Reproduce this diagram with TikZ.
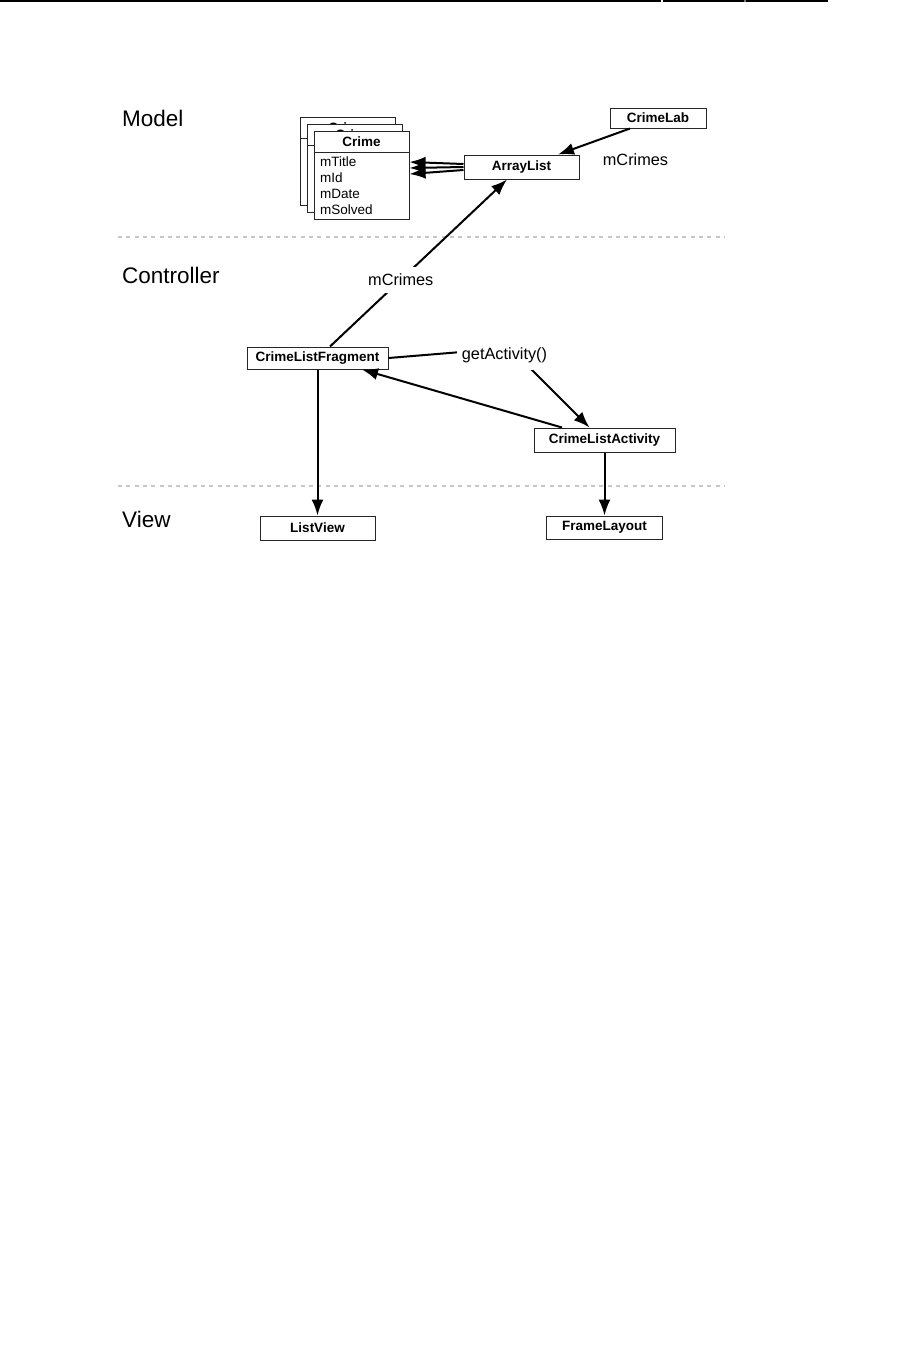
\documentclass[tikz,border=0pt]{standalone}
\usepackage{fontspec}
\setmainfont{Liberation Sans}
\usetikzlibrary{arrows.meta}

\begin{document}
\begin{tikzpicture}[x=1pt,y=-1pt,
  cls/.style={draw=black!85,line width=1pt,fill=white,inner sep=0pt,font=\fontsize{13.5}{16}\selectfont\bfseries},
  hdr/.style={inner sep=0pt,font=\fontsize{13.5}{16}\selectfont\bfseries},
  fld/.style={anchor=base west,inner sep=0pt,font=\fontsize{13.5}{16}\selectfont},
  lbl/.style={fill=white,inner xsep=5pt,inner ysep=7pt,font=\fontsize{16.3}{19}\selectfont},
  layer/.style={anchor=base west,inner sep=0pt,font=\fontsize{22.5}{27}\selectfont},
  arr/.style={line width=2pt,-{Latex[length=16pt,width=12pt]}},
  sep/.style={line width=1.5pt,black!22,dash pattern=on 4pt off 4.3pt}]
\useasboundingbox (0,0) rectangle (917,1350);
\fill[white] (0,0) rectangle (917,1350);
\draw[line width=1.5pt] (0,0.75) -- (661,0.75);
\draw[line width=1.5pt] (663,0.75) -- (744,0.75);
\draw[line width=1.5pt,black!55] (744,0.75) -- (746,0.75);
\draw[line width=1.5pt] (746,0.75) -- (828,0.75);
\draw[sep] (118,237) -- (725,237);
\draw[sep] (118,486) -- (725,486);
\node[layer] (model) at (122,126) {Model};
\node[layer] (controller) at (122,283) {Controller};
\node[layer] (view) at (122,527) {View};
\foreach \i in {2,1} {
\begin{scope}[shift={(-7*\i,-7*\i)}]
\node[cls,minimum width=95pt,minimum height=88pt] (crime\i) at (361.5,175) {};
\draw[line width=1pt,black!85] (314,152) -- (409,152);
\node[hdr] (hdr\i) at (361.5,141.5) {Crime};
\end{scope}
}
\node[cls,minimum width=95pt,minimum height=88pt] (crime0) at (361.5,175) {};
\draw[line width=1pt,black!85] (crime0.west |- 0,152) -- (crime0.east |- 0,152);
\node[hdr] (hdr0) at (361.5,141.5) {Crime};
\foreach \f [count=\k] in {mTitle,mId,mDate,mSolved}
  \node[fld] (fld\k) at (320,150+16*\k) {\f};
\node[cls,minimum width=96pt,minimum height=20pt] (crimelab) at (658,118) {CrimeLab};
\node[cls,minimum width=115pt,minimum height=24pt] (arraylist) at (521.5,167) {ArrayList};
\node[cls,minimum width=141pt,minimum height=22pt] (fragment) at (317.5,358) {CrimeListFragment};
\node[cls,minimum width=141pt,minimum height=24pt] (activity) at (604.5,440) {CrimeListActivity};
\node[cls,minimum width=115pt,minimum height=24pt] (listview) at (317.5,528) {ListView};
\node[cls,minimum width=116pt,minimum height=23pt] (framelayout) at (604.5,527.5) {FrameLayout};
\node[lbl,fill=none] (labcrimes) at (635.5,160) {mCrimes};
\draw[arr] ([xshift=-28pt]crimelab.south) -- ([xshift=36.5pt]arraylist.north);
\foreach \a/\b in {3/13,0/7,-3/1}
  \draw[arr] ([yshift=\a pt]arraylist.west) -- ([yshift=\b pt]crime0.east);
\draw[arr] ([xshift=12.5pt]fragment.north) -- node[lbl,pos=0.4] (fragcrimes) {mCrimes} ([xshift=-14.5pt]arraylist.south);
\draw[arr] (fragment.east) -- (510,348) node[lbl,xshift=-5.5pt,yshift=-7.5pt] (getact) {getActivity()} -- ([xshift=-15pt]activity.north);
\draw[arr] ([xshift=-42.5pt]activity.north) -- ([xshift=44.5pt]fragment.south);
\draw[arr] (fragment.south) -- (listview.north);
\draw[arr] (activity.south) -- (framelayout.north);
\end{tikzpicture}
\end{document}
